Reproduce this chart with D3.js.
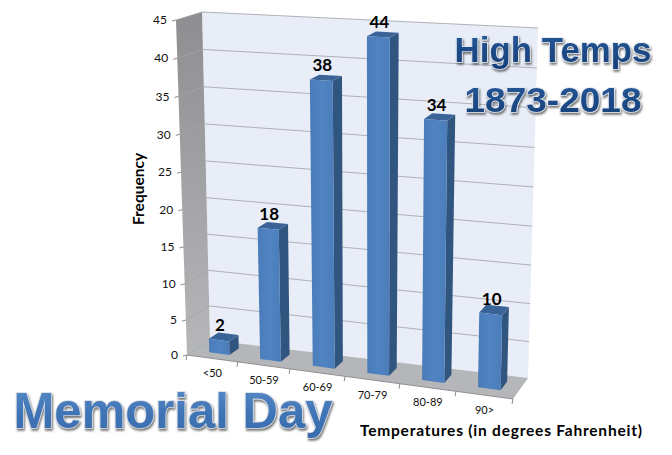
<!DOCTYPE html>
<html><head><meta charset="utf-8">
<script src="https://cdnjs.cloudflare.com/ajax/libs/d3/7.8.5/d3.min.js"></script>
<style>html,body{margin:0;padding:0;background:#fff}svg{display:block}</style></head>
<body><svg id="c" width="672" height="455"></svg>
<script>
const categories = ["<50","50-59","60-69","70-79","80-89","90>"];
const frequencies = [2,18,38,44,34,10];
const valueTicks = [0,5,10,15,20,25,30,35,40,45];
const xTitle = "Temperatures (in degrees Fahrenheit)";
const yTitle = "Frequency";

const svg = d3.select("#c");
const font = "Lato, 'Open Sans', sans-serif";

// perspective box: corners of the front and back planes
const box = {
  fbl:[187,355], fbr:[513,399], ftl:[176,20], ftr:[520,42],
  bbl:[210,340], bbr:[528,378], btl:[202,12], btr:[538,28]
};
const mix = (a,b,t)=>[d3.interpolateNumber(a[0],b[0])(t), d3.interpolateNumber(a[1],b[1])(t)];
// category position along the floor (foreshortened toward the left)
const uScale = d3.scaleLinear().domain([0,1,2,3,4,5,6]).range([0,.156,.316,.485,.653,.825,1]);
const vScale = d3.scalePow().exponent(1.03).domain([0,45]).range([0,1]);
function P(u,val,d){ // d: 0 front, 1 back
  const v = vScale(val);
  const fb = mix(box.fbl,box.fbr,u), ft = mix(box.ftl,box.ftr,u);
  const bb = mix(box.bbl,box.bbr,u), bt = mix(box.btl,box.btr,u);
  return mix(mix(fb,ft,v), mix(bb,bt,v), d);
}
const poly = d3.line().curve(d3.curveLinearClosed);
const seg = d3.line();

const defs = svg.append("defs");
function grad(id,stops,x2,y2){
  const g = defs.append("linearGradient").attr("id",id).attr("x1",0).attr("y1",0).attr("x2",x2).attr("y2",y2);
  stops.forEach(s=>g.append("stop").attr("offset",s[0]).attr("stop-color",s[1]));
}
grad("sideWall",[[0,"#8e8e91"],[1,"#b6b7b9"]],0,1);
grad("barFront",[[0,"#4a7cb9"],[.5,"#5083c2"],[1,"#4a7db9"]],1,0);
grad("artDark",[[0,"#2a5a9a"],[.55,"#1c4a86"],[1,"#17407a"]],0,1);
grad("artLight",[[0,"#5a8cc8"],[.55,"#3f74b6"],[1,"#3a6cab"]],0,1);
const f = defs.append("filter").attr("id","art").attr("x","-10%").attr("y","-20%").attr("width","120%").attr("height","150%");
f.append("feDropShadow").attr("dx",1).attr("dy",2).attr("stdDeviation",1.3).attr("flood-color","#444").attr("flood-opacity",.75);

// walls and floor
svg.append("path").attr("d",poly([box.btl,box.btr,box.bbr,box.bbl])).attr("fill","#e8edf7");
svg.append("path").attr("d",poly([box.ftl,box.btl,box.bbl,box.fbl])).attr("fill","url(#sideWall)");
svg.append("path").attr("d",poly([box.fbl,box.bbl,box.bbr,box.fbr])).attr("fill","#b4b6b9");

// gridlines on back wall and side wall
const grid = svg.append("g").attr("fill","none");
valueTicks.forEach(t=>{
  if(t>0) grid.append("path").attr("d",seg([P(0,t,1),P(1,t,1)])).attr("stroke","#aeb1b6").attr("stroke-width",1);
  grid.append("path").attr("d",seg([P(0,t,0),P(0,t,1)])).attr("stroke","#a3a4a7").attr("stroke-width",.8);
});

// value axis
const yAxis = svg.append("g");
valueTicks.forEach(t=>{
  const p = P(0,t,0);
  yAxis.append("path").attr("d",seg([[p[0]-4,p[1]+1],p])).attr("stroke","#8a8a8a").attr("fill","none");
  yAxis.append("text").attr("x",p[0]-9).attr("y",p[1]).attr("dy","0.35em").attr("text-anchor","end")
    .attr("font-family",font).attr("font-size",12).attr("fill","#111").text(t);
});
// category axis
const xAxis = svg.append("g");
svg.append("path").attr("d",seg([P(0,0,0),P(1,0,0)])).attr("stroke","#8f8f8f").attr("fill","none");
d3.range(0,categories.length+1).forEach(i=>{
  const p = P(uScale(i),0,0);
  xAxis.append("path").attr("d",seg([p,[p[0]-1,p[1]+5]])).attr("stroke","#8a8a8a").attr("fill","none");
});
categories.forEach((c,i)=>{
  const p = P(uScale(i+.5),0,0);
  xAxis.append("text").attr("x",p[0]).attr("y",p[1]+15).attr("dy","0.35em").attr("text-anchor","middle")
    .attr("font-family",font).attr("font-size",11).attr("fill","#111").text(c);
});

// bars
const dF=.31, dB=.73, half=.2;
const bars = svg.selectAll("g.bar").data(frequencies).join("g").attr("class","bar");
bars.each(function(val,i){
  const g = d3.select(this);
  const ul = uScale(i+.5-half), ur = uScale(i+.5+half);
  g.append("path").attr("d",poly([P(ur,0,dF),P(ur,0,dB),P(ur,val,dB),P(ur,val,dF)])).attr("fill","#30557f");
  g.append("path").attr("d",poly([P(ul,val,dF),P(ur,val,dF),P(ur,val,dB),P(ul,val,dB)])).attr("fill","#3a6498");
  g.append("path").attr("d",poly([P(ul,0,dF),P(ur,0,dF),P(ur,val,dF),P(ul,val,dF)])).attr("fill","url(#barFront)");
  const t = P((ul+ur)/2,val,dF);
  g.append("text").attr("x",t[0]+1).attr("y",t[1]-15).attr("dy","0.35em").attr("text-anchor","middle")
    .attr("font-family",font).attr("font-weight",700).attr("font-size",17).attr("fill","#000").text(val);
});

// axis titles
svg.append("text").attr("transform","translate(139,189) rotate(-90)").attr("text-anchor","middle").attr("dy","0.35em")
  .attr("font-family",font).attr("font-weight",700).attr("font-size",15.5).attr("fill","#000").text(yTitle);
svg.append("text").attr("x",501).attr("y",431).attr("text-anchor","middle").attr("dy","0.35em")
  .attr("font-family",font).attr("font-weight",700).attr("font-size",15.5).attr("textLength",282).attr("fill","#000").text(xTitle);

// word art
function art(txt,x,y,size,len,fill,stroke){
  svg.append("text").attr("x",x).attr("y",y).attr("text-anchor","middle")
    .attr("font-family","'Liberation Sans', sans-serif").attr("font-weight",700).attr("font-size",size)
    .attr("textLength",len).attr("lengthAdjust","spacingAndGlyphs")
    .attr("fill",fill).attr("stroke",stroke).attr("stroke-width",1.6).attr("paint-order","stroke")
    .attr("filter","url(#art)").text(txt);
}
art("High Temps",553,62,35,197,"url(#artDark)","#dfe5ee");
art("1873-2018",553,112,35,177,"url(#artDark)","#dfe5ee");
art("Memorial Day",173,428,50,319,"url(#artLight)","#d5dae2");
</script></body></html>
